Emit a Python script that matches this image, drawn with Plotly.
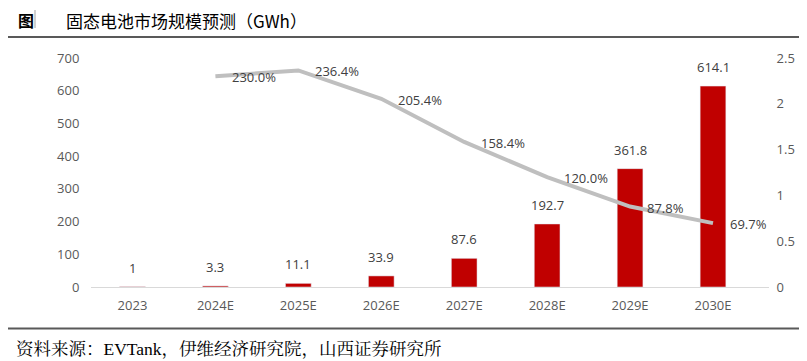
import plotly.graph_objects as go

categories = ["2023", "2024E", "2025E", "2026E", "2027E", "2028E", "2029E", "2030E"]
market_size = [1, 3.3, 11.1, 33.9, 87.6, 192.7, 361.8, 614.1]
market_labels = ["1", "3.3", "11.1", "33.9", "87.6", "192.7", "361.8", "614.1"]
growth_categories = ["2024E", "2025E", "2026E", "2027E", "2028E", "2029E", "2030E"]
growth_rate = [2.300, 2.364, 2.054, 1.584, 1.200, 0.878, 0.697]
left_ticks = [0, 100, 200, 300, 400, 500, 600, 700]
right_ticks = [0, 0.5, 1, 1.5, 2, 2.5]
right_tick_labels = ["0", "0.5", "1", "1.5", "2", "2.5"]

# page is rendered with an 8px body margin; work in page pixels and convert
OFF = 8
W, H = 807, 361
PL, PR, PT, PB = 91, 769, 58, 287   # plot area in page pixels
L = PL - OFF
T = PT - OFF
R = W - (PR - OFF)
B = H - (PB - OFF)

tick_font = dict(family="Open Sans, Liberation Sans, sans-serif", size=13, color="#595959")
label_font = dict(family="Open Sans, Liberation Sans, sans-serif", size=13, color="#404040")

fig = go.Figure()
fig.add_trace(go.Bar(
    x=categories, y=market_size, marker_color="#C00000", width=0.31,
    hoverinfo="skip", showlegend=False,
))
fig.add_trace(go.Scatter(
    x=growth_categories, y=growth_rate, yaxis="y2", mode="lines",
    line=dict(color="#BFBFBF", width=4), hoverinfo="skip", showlegend=False,
))

annotations = []
for c, v, t in zip(categories, market_size, market_labels):
    annotations.append(dict(
        x=categories.index(c), y=v, xref="x", yref="y", text=t, showarrow=False,
        xanchor="center", yanchor="bottom", yshift=8, font=label_font,
    ))
for c, v in zip(growth_categories, growth_rate):
    annotations.append(dict(
        x=categories.index(c), y=v, xref="x", yref="y2", text=f"{v*100:.1f}%",
        showarrow=False, xanchor="left", yanchor="middle", xshift=15, yshift=-1,
        font=label_font,
    ))


def px_x(p):
    return (p - PL) / (PR - PL)


def px_y(p):
    return (PB - p) / (PB - PT)


paper_font = "Noto Sans CJK SC, sans-serif"
annotations += [
    dict(x=px_x(16), y=px_y(20), xref="paper", yref="paper", text="<b>图</b>",
         showarrow=False, xanchor="left", yanchor="middle",
         font=dict(family=paper_font, size=16, color="#000000")),
    dict(x=px_x(64), y=px_y(20), xref="paper", yref="paper",
         text="固态电池市场规模预测（GWh）", showarrow=False,
         xanchor="left", yanchor="middle",
         font=dict(family=paper_font, size=17, color="#000000")),
    dict(x=px_x(14), y=px_y(349), xref="paper", yref="paper",
         text="资料来源：EVTank，伊维经济研究院，山西证券研究所", showarrow=False,
         xanchor="left", yanchor="middle",
         font=dict(family="Liberation Serif, Noto Serif CJK SC, Noto Sans CJK SC, serif",
                   size=17.5, color="#000000")),
]

shapes = [
    dict(type="line", xref="paper", yref="paper", x0=px_x(0), x1=px_x(820),
         y0=px_y(37), y1=px_y(37), line=dict(color="#595959", width=1.8)),
    dict(type="line", xref="paper", yref="paper", x0=px_x(0), x1=px_x(820),
         y0=px_y(328.5), y1=px_y(328.5), line=dict(color="#595959", width=1.8)),
    dict(type="rect", xref="paper", yref="paper", x0=px_x(34), x1=px_x(36),
         y0=px_y(28), y1=px_y(10), line=dict(width=0), fillcolor="#D0D0D0"),
]

fig.update_layout(
    width=W, height=H, margin=dict(l=L, r=R, t=T, b=B, autoexpand=False),
    paper_bgcolor="white", plot_bgcolor="white",
    xaxis=dict(type="category", categoryorder="array", categoryarray=categories,
               showgrid=False, showline=True, linecolor="#D9D9D9", linewidth=1,
               ticks="outside", ticklen=6, tickcolor="rgba(0,0,0,0)",
               tickfont=tick_font, zeroline=False),
    yaxis=dict(range=[0, 700], tickvals=left_ticks, showgrid=False, zeroline=False,
               showline=False, ticks="outside", ticklen=8, tickcolor="rgba(0,0,0,0)",
               tickfont=tick_font),
    yaxis2=dict(range=[0, 2.5], tickvals=right_ticks, ticktext=right_tick_labels,
                overlaying="y", side="right", showgrid=False, zeroline=False,
                showline=False, ticks="outside", ticklen=4, tickcolor="rgba(0,0,0,0)",
                tickfont=tick_font),
    annotations=annotations, shapes=shapes,
)

fig.write_html("out.html")
